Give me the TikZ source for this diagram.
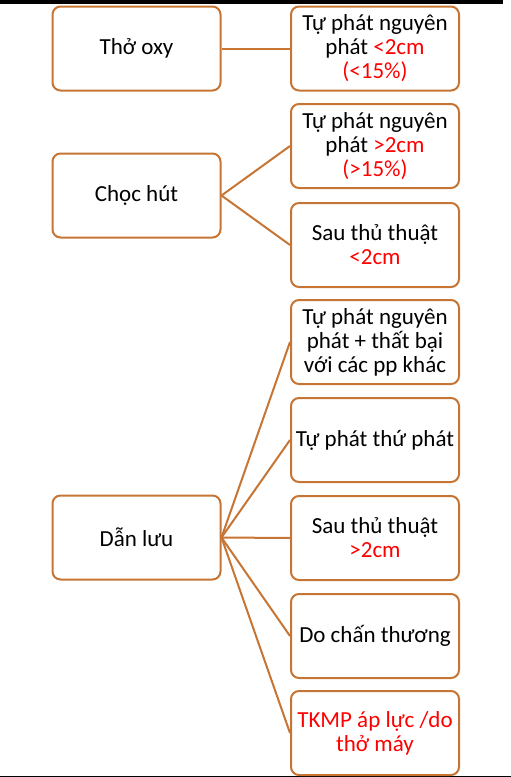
\documentclass[tikz,border=0pt]{standalone}
\usepackage{fontspec}
\setmainfont{Carlito}
\definecolor{edge}{RGB}{198,117,52}
\definecolor{txtred}{RGB}{255,0,0}
\tikzset{
  box/.style={draw=edge, line width=2pt, rounded corners=8pt, fill=white,
    minimum width=168pt, minimum height=84pt, align=center,
    inner sep=0pt, font=\fontsize{23pt}{24pt}\selectfont},
  conn/.style={draw=edge, line width=2pt}
}
\begin{document}
\begin{tikzpicture}[x=1pt,y=-1pt]
\useasboundingbox (0,0) rectangle (511,777);
\fill[black] (0,0) rectangle (503,4);
\fill[black] (0,775.5) rectangle (511,777);
% left
\node[box] (oxy) at (136.5,48.5) {Thở oxy};
\node[box] (choc) at (136.5,195.5) {Chọc hút};
\node[box] (dan) at (136.5,537.5) {Dẫn lưu};
% right
\node[box] (r1) at (375,48.5) {Tự phát nguyên\\phát \textcolor{txtred}{<2cm}\\\textcolor{txtred}{(<15\%)}};
\node[box] (r2) at (375,146) {Tự phát nguyên\\phát \textcolor{txtred}{>2cm}\\\textcolor{txtred}{(>15\%)}};
\node[box] (r3) at (375,245) {Sau thủ thuật\\\textcolor{txtred}{<2cm}};
\node[box] (r4) at (375,342) {Tự phát nguyên\\phát + thất bại\\với các pp khác};
\node[box] (r5) at (375,440) {Tự phát thứ phát};
\node[box] (r6) at (375,538) {Sau thủ thuật\\\textcolor{txtred}{>2cm}};
\node[box] (r7) at (375,636) {Do chấn thương};
\node[box] (r8) at (375,733) {\textcolor{txtred}{TKMP áp lực /do}\\\textcolor{txtred}{thở máy}};
% connectors
\draw[conn] (oxy.east) -- (r1.west);
\draw[conn] (choc.east) -- (r2.west);
\draw[conn] (choc.east) -- (r3.west);
\foreach \r in {r4,r5,r6,r7,r8} \draw[conn] (dan.east) -- (\r.west);
\end{tikzpicture}
\end{document}
